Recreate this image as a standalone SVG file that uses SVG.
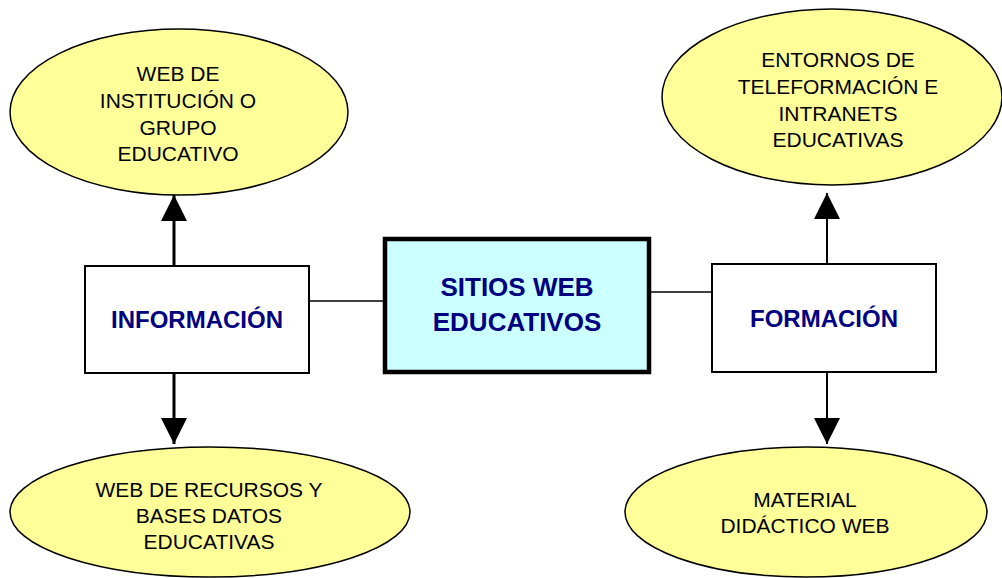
<svg xmlns="http://www.w3.org/2000/svg" width="1002" height="578" viewBox="0 0 1002 578">
<defs>
<style>
.ell{fill:#FFFF99;stroke:#000;stroke-width:1.5}
.box{fill:#fff;stroke:#000;stroke-width:2}
.center{fill:#CCFFFF;stroke:#000;stroke-width:4.5}
.t{font-family:"Liberation Sans",Arial,sans-serif;font-size:21px;fill:#000;text-anchor:middle}
.b{font-family:"Liberation Sans",Arial,sans-serif;font-size:24px;font-weight:bold;fill:#000080;text-anchor:middle}
.bc{font-size:26px}
.con{stroke:#000;fill:none}
</style>
<marker id="ah" markerUnits="userSpaceOnUse" markerWidth="26" markerHeight="26" refX="26" refY="13" orient="auto">
<path d="M0,0 L26,13 L0,26 z" fill="#000"/>
</marker>
</defs>
<rect width="1002" height="578" fill="#fff"/>
<g id="connectors">
<line class="con" x1="309" y1="301" x2="385" y2="301" stroke-width="1.5"/>
<line class="con" x1="651" y1="292" x2="712" y2="292" stroke-width="1.5"/>
<line class="con" x1="174" y1="266" x2="174" y2="195" stroke-width="3" marker-end="url(#ah)"/>
<line class="con" x1="174" y1="373" x2="174" y2="444" stroke-width="3" marker-end="url(#ah)"/>
<line class="con" x1="827" y1="264" x2="827" y2="193" stroke-width="2" marker-end="url(#ah)"/>
<line class="con" x1="827" y1="372" x2="827" y2="444" stroke-width="2" marker-end="url(#ah)"/>
</g>
<g id="web-institucion">
<ellipse class="ell" cx="179" cy="112" rx="169" ry="83"/>
<text class="t" x="178" y="81">WEB DE</text>
<text class="t" x="178" y="108">INSTITUCIÓN O</text>
<text class="t" x="178" y="135">GRUPO</text>
<text class="t" x="178" y="161">EDUCATIVO</text>
</g>
<g id="entornos">
<ellipse class="ell" cx="832" cy="97" rx="170" ry="88"/>
<text class="t" x="838" y="67">ENTORNOS DE</text>
<text class="t" x="838" y="94">TELEFORMACIÓN E</text>
<text class="t" x="838" y="121">INTRANETS</text>
<text class="t" x="838" y="147">EDUCATIVAS</text>
</g>
<g id="web-recursos">
<ellipse class="ell" cx="210" cy="512" rx="200" ry="65"/>
<text class="t" x="209" y="497">WEB DE RECURSOS Y</text>
<text class="t" x="209" y="523">BASES DATOS</text>
<text class="t" x="209" y="549">EDUCATIVAS</text>
</g>
<g id="material">
<ellipse class="ell" cx="806" cy="512" rx="181" ry="65"/>
<text class="t" x="805" y="507">MATERIAL</text>
<text class="t" x="805" y="533">DIDÁCTICO WEB</text>
</g>
<g id="informacion">
<rect class="box" x="85" y="266" width="224" height="107"/>
<text class="b" x="197" y="328">INFORMACIÓN</text>
</g>
<g id="sitios-web">
<rect class="center" x="385" y="239" width="264" height="133"/>
<text class="b bc" x="517" y="296">SITIOS WEB</text>
<text class="b bc" x="517" y="331">EDUCATIVOS</text>
</g>
<g id="formacion">
<rect class="box" x="712" y="264" width="224" height="108"/>
<text class="b" x="824" y="327">FORMACIÓN</text>
</g>
</svg>
